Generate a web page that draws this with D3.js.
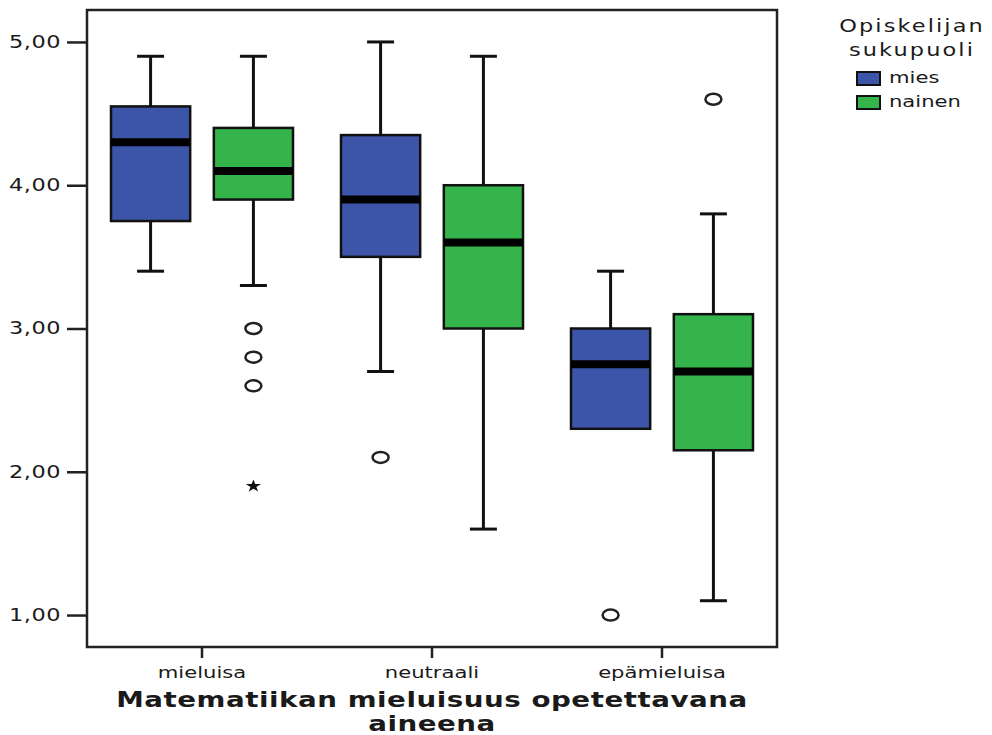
<!DOCTYPE html>
<html>
<head>
<meta charset="utf-8">
<script src="https://cdn.jsdelivr.net/npm/d3@7"></script>
<style>
  body { margin: 0; background: #fff; }
  text { font-family: "DejaVu Sans", sans-serif; fill: #1a1a1a; }
</style>
</head>
<body>
<script>
// categories and groups
const categories = ["mieluisa", "neutraali", "epämieluisa"];
const groups = ["mies", "nainen"];
const groupColors = ["#3d55a8", "#34b44a"];

// [min, q1, median, q3, max] per category
const miesStats = [[3.40, 3.75, 4.30, 4.55, 4.90], [2.70, 3.50, 3.90, 4.35, 5.00], [2.30, 2.30, 2.75, 3.00, 3.40]];
const nainenStats = [[3.30, 3.90, 4.10, 4.40, 4.90], [1.60, 3.00, 3.60, 4.00, 4.90], [1.10, 2.15, 2.70, 3.10, 3.80]];

// outliers (circles) and extremes (stars)
const miesOutliers = [[], [2.10], [1.00]];
const nainenOutliers = [[3.00, 2.80, 2.60], [], [4.60]];
const miesExtremes = [[], [], []];
const nainenExtremes = [[1.90], [], []];

const yTicks = [1, 2, 3, 4, 5];

const width = 992, height = 735;
const plotLeft = 87, plotRight = 777, plotTop = 10, plotBottom = 647;
const sx = 1.32; // picture is stretched sideways

const svg = d3.select("body").append("svg")
  .attr("width", width)
  .attr("height", height);

const yScale = d3.scaleLinear()
  .domain([0.777, 5.223])
  .range([plotBottom, plotTop]);

const xScale = d3.scaleBand()
  .domain(categories)
  .range([plotLeft, plotRight]);

const xInner = d3.scaleBand()
  .domain(groups)
  .range([24, 206])
  .paddingInner(0.23);

const formatComma = (d) => d.toFixed(2).replace(".", ",");

// rows for drawing
const rows = [];
categories.forEach((c, i) => {
  rows.push({cat: c, group: "mies", s: miesStats[i], out: miesOutliers[i], ext: miesExtremes[i]});
  rows.push({cat: c, group: "nainen", s: nainenStats[i], out: nainenOutliers[i], ext: nainenExtremes[i]});
});

const color = d3.scaleOrdinal().domain(groups).range(groupColors);

// y axis
const yAxis = d3.axisLeft(yScale)
  .tickValues(yTicks)
  .tickSize(20)
  .tickPadding(0)
  .tickFormat(formatComma);

const yg = svg.append("g")
  .attr("transform", "translate(" + plotLeft + ",0)")
  .call(yAxis);
yg.select(".domain").remove();
yg.selectAll(".tick line").attr("stroke", "#222").attr("stroke-width", 2.5);
yg.selectAll(".tick text")
  .attr("x", -26 / sx)
  .attr("transform", "scale(" + sx + ",1)")
  .attr("font-size", 17)
  .attr("letter-spacing", 0.4)
  .attr("font-family", "DejaVu Sans")
  .attr("fill", "#222");

// x axis
const xAxis = d3.axisBottom(xScale)
  .tickSize(11)
  .tickPadding(0);

const xg = svg.append("g")
  .attr("transform", "translate(0," + plotBottom + ")")
  .call(xAxis);
xg.select(".domain").remove();
xg.selectAll(".tick line").attr("stroke", "#222").attr("stroke-width", 2.5);
xg.selectAll(".tick text")
  .attr("y", 31)
  .attr("dy", 0)
  .attr("transform", "scale(" + sx + ",1)")
  .attr("font-size", 16)
  .attr("font-family", "DejaVu Sans")
  .attr("fill", "#222");

// frame
svg.append("rect")
  .attr("x", plotLeft)
  .attr("y", plotTop)
  .attr("width", plotRight - plotLeft)
  .attr("height", plotBottom - plotTop)
  .attr("fill", "none")
  .attr("stroke", "#222")
  .attr("stroke-width", 2.5);

// boxes
const box = svg.selectAll("g.box")
  .data(rows)
  .enter()
  .append("g")
  .attr("class", "box")
  .attr("transform", d => "translate(" + (xScale(d.cat) + xInner(d.group)) + ",0)");

const bw = xInner.bandwidth();
const capW = 27;

box.append("line")
  .attr("x1", bw / 2).attr("x2", bw / 2)
  .attr("y1", d => yScale(d.s[4])).attr("y2", d => yScale(d.s[3]))
  .attr("stroke", "#111").attr("stroke-width", 3);
box.append("line")
  .attr("x1", bw / 2).attr("x2", bw / 2)
  .attr("y1", d => yScale(d.s[1])).attr("y2", d => yScale(d.s[0]))
  .attr("stroke", "#111").attr("stroke-width", 3);
box.append("line")
  .attr("x1", bw / 2 - capW / 2).attr("x2", bw / 2 + capW / 2)
  .attr("y1", d => yScale(d.s[4])).attr("y2", d => yScale(d.s[4]))
  .attr("stroke", "#111").attr("stroke-width", 3);
box.filter(d => d.s[0] < d.s[1]).append("line")
  .attr("x1", bw / 2 - capW / 2).attr("x2", bw / 2 + capW / 2)
  .attr("y1", d => yScale(d.s[0])).attr("y2", d => yScale(d.s[0]))
  .attr("stroke", "#111").attr("stroke-width", 3);

box.append("rect")
  .attr("x", 0)
  .attr("y", d => yScale(d.s[3]))
  .attr("width", bw)
  .attr("height", d => yScale(d.s[1]) - yScale(d.s[3]))
  .attr("fill", d => color(d.group))
  .attr("stroke", "#111")
  .attr("stroke-width", 2.5);

box.append("line")
  .attr("x1", 0).attr("x2", bw)
  .attr("y1", d => yScale(d.s[2])).attr("y2", d => yScale(d.s[2]))
  .attr("stroke", "#000").attr("stroke-width", 8);

// outliers
box.selectAll("ellipse")
  .data(d => d.out)
  .enter()
  .append("ellipse")
  .attr("cx", bw / 2)
  .attr("cy", v => yScale(v))
  .attr("rx", 8)
  .attr("ry", 5.5)
  .attr("fill", "#fff")
  .attr("stroke", "#222")
  .attr("stroke-width", 2.5);

box.selectAll("path.ext")
  .data(d => d.ext)
  .enter()
  .append("path")
  .attr("class", "ext")
  .attr("d", d3.symbol().type(d3.symbolStar).size(50))
  .attr("transform", v => "translate(" + bw / 2 + "," + yScale(v) + ") scale(1.2,1)")
  .attr("fill", "#111");

// axis title
const title = svg.append("text")
  .attr("transform", "translate(" + (plotLeft + plotRight) / 2 + ",0) scale(" + sx + ",1)")
  .attr("text-anchor", "middle")
  .attr("font-size", 21)
  .attr("font-weight", "bold")
  .attr("letter-spacing", 0.4)
  .attr("fill", "#111");
title.append("tspan").attr("x", 0).attr("y", 707).text("Matematiikan mieluisuus opetettavana");
title.append("tspan").attr("x", 0).attr("y", 731).text("aineena");

// legend
const legendTitle = svg.append("text")
  .attr("transform", "translate(912,0) scale(" + sx + ",1)")
  .attr("text-anchor", "middle")
  .attr("font-size", 17)
  .attr("letter-spacing", 1.6)
  .attr("fill", "#222");
legendTitle.append("tspan").attr("x", 0).attr("y", 32).text("Opiskelijan");
legendTitle.append("tspan").attr("x", 0).attr("y", 56).text("sukupuoli");

const legend = svg.selectAll("g.legend")
  .data(groups)
  .enter()
  .append("g")
  .attr("class", "legend")
  .attr("transform", (d, i) => "translate(857," + (72 + i * 24) + ")");

legend.append("rect")
  .attr("width", 23)
  .attr("height", 13)
  .attr("fill", d => color(d))
  .attr("stroke", "#111")
  .attr("stroke-width", 2);

legend.append("text")
  .attr("transform", "translate(32,11) scale(" + sx + ",1)")
  .attr("font-size", 16)
  .attr("fill", "#222")
  .text(d => d);
</script>
</body>
</html>
